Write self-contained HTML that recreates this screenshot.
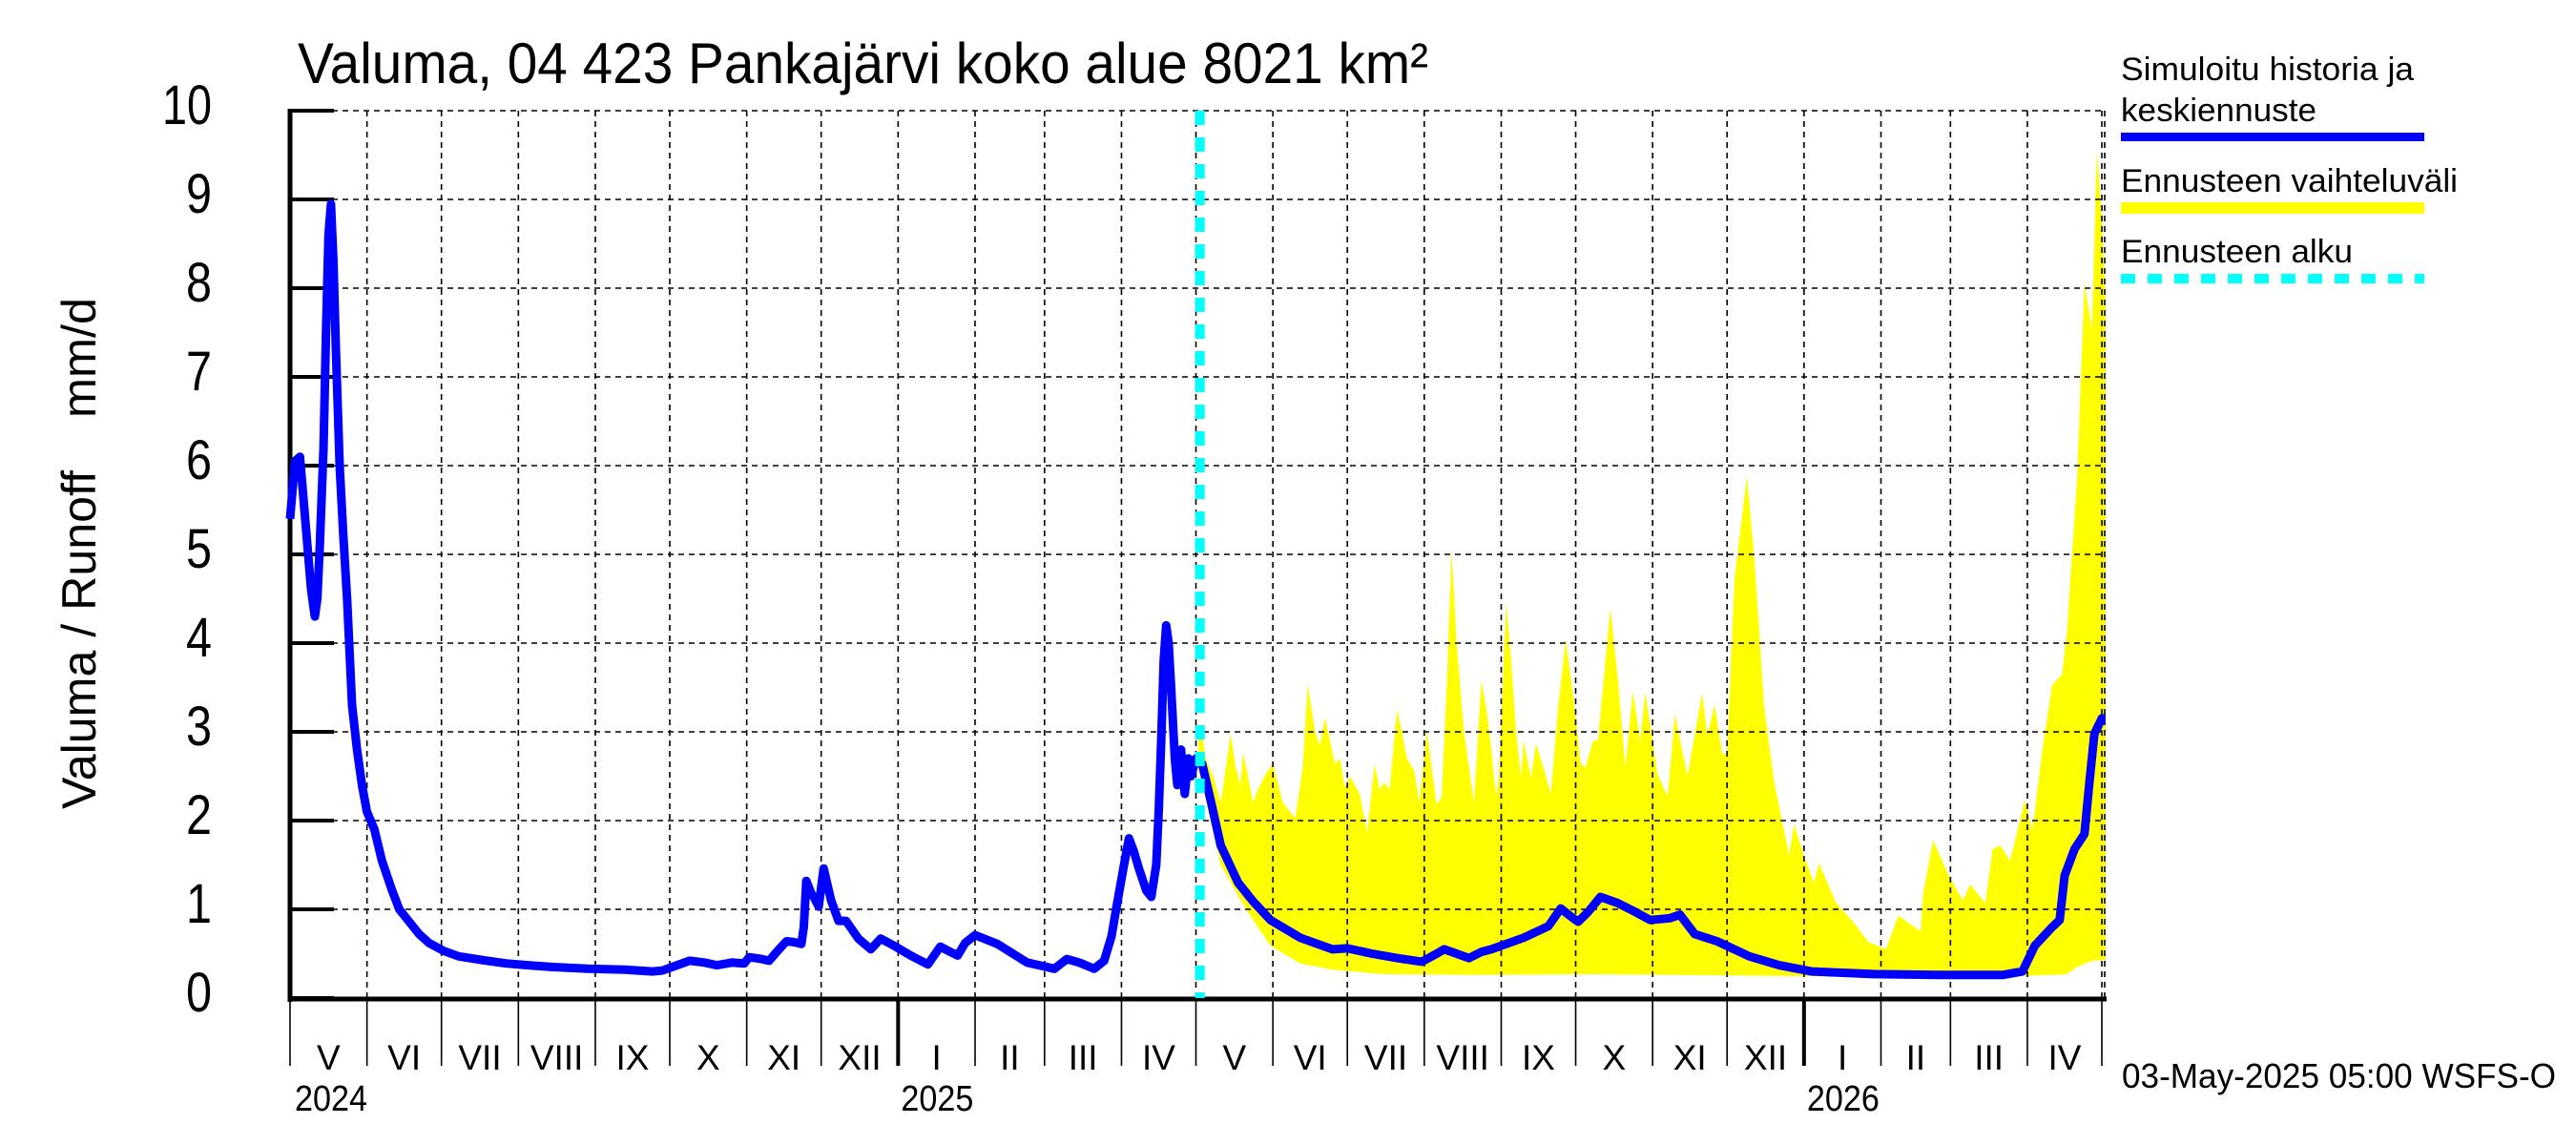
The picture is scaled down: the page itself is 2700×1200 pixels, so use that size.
<!DOCTYPE html>
<html><head><meta charset="utf-8"><style>
html,body{margin:0;padding:0;background:#fff;}
svg{display:block;font-family:"Liberation Sans",sans-serif;}
</style></head><body>
<svg id="chart" width="2700" height="1200" viewBox="0 0 2700 1200" xmlns="http://www.w3.org/2000/svg">
<rect x="0" y="0" width="2700" height="1200" fill="#fff"/>
<text x="312" y="87" font-size="60" textLength="1185" lengthAdjust="spacingAndGlyphs">Valuma, 04 423 Pankajärvi koko alue 8021 km²</text>
<g transform="translate(100,580) rotate(-90)">
<text x="-268" y="0" font-size="50" textLength="355" lengthAdjust="spacingAndGlyphs">Valuma / Runoff</text>
<text x="142" y="0" font-size="50" textLength="126" lengthAdjust="spacingAndGlyphs">mm/d</text>
</g>
<g id="band"></g>
<g id="grid"></g>
<g id="axes"></g>
<g id="series"></g>
<g>
<text x="2223" y="84" font-size="34" textLength="307" lengthAdjust="spacingAndGlyphs">Simuloitu historia ja</text>
<text x="2223" y="127" font-size="34" textLength="205" lengthAdjust="spacingAndGlyphs">keskiennuste</text>
<rect x="2223" y="139" width="318" height="9" fill="#0000ff"/>
<text x="2223" y="201" font-size="34" textLength="353" lengthAdjust="spacingAndGlyphs">Ennusteen vaihteluväli</text>
<rect x="2223" y="212" width="318" height="12" fill="#ffff00"/>
<text x="2223" y="275" font-size="34" textLength="243" lengthAdjust="spacingAndGlyphs">Ennusteen alku</text>
<line x1="2223" y1="292" x2="2541" y2="292" stroke="#00ffff" stroke-width="10" stroke-dasharray="15,13"/>
</g>
<text x="2224" y="1140" font-size="36" textLength="455" lengthAdjust="spacingAndGlyphs">03-May-2025 05:00 WSFS-O</text>
</svg>
<script>
const yTicks = [0,1,2,3,4,5,6,7,8,9,10];
const monthLabels = ["V","VI","VII","VIII","IX","X","XI","XII","I","II","III","IV","V","VI","VII","VIII","IX","X","XI","XII","I","II","III","IV"];
const monthLengths = [31,30,31,31,30,31,30,31,31,28,31,30,31,30,31,31,30,31,30,31,31,28,31,30];
const yearLabels = ["2024","2025","2026"];
const yearStartDays = [0,245,610];
const forecastStartDay = 367;
const runoffDays = [0,2,4,5.5,7,8.5,10,11,12,13.5,14.5,15.5,16.5,17.5,18.5,20,21.5,23,25,27,29,31,34,37,41,44,48,52,56,62,68,77,87,96,106,120,135,146,150,155,161,167,172,178,183,185,190,193,197,200,203,206,207,208,210,211,213,215,218,221,224,229,234,238,244,250,257,262,266,269,272,276,285,297,308,313,318,324,328,331,333,336,338,340,342,345,347,349,350,351,352,353,354,355,356.5,357.5,359,360.5,362,363,365,367.5,371,375,382,388,395,407,420,426,436,446,456,462,465,470,475,480,484,497,507,512,516,519,523,528,535,542,548,556,560,566,575,588,600,613,638,664,690,698,703,710,713,715,719,723,725,727,730,731.5];
const runoffValues = [5.4,6.05,6.1,5.6,5.1,4.6,4.3,4.5,5.1,6.2,7.5,8.6,8.95,8.3,7.3,6.0,5.2,4.5,3.3,2.8,2.4,2.1,1.9,1.55,1.22,1.0,0.86,0.72,0.62,0.53,0.47,0.43,0.39,0.37,0.35,0.33,0.32,0.30,0.31,0.36,0.42,0.40,0.37,0.40,0.39,0.46,0.44,0.42,0.55,0.64,0.63,0.61,0.8,1.32,1.18,1.14,1.03,1.46,1.10,0.87,0.87,0.67,0.55,0.67,0.58,0.48,0.38,0.58,0.52,0.48,0.62,0.71,0.61,0.40,0.33,0.44,0.40,0.33,0.42,0.7,1.03,1.5,1.80,1.65,1.46,1.21,1.14,1.5,2.11,2.9,3.8,4.2,4.0,3.5,2.7,2.4,2.8,2.3,2.7,2.5,2.7,2.64,2.22,1.72,1.30,1.09,0.88,0.68,0.55,0.56,0.50,0.45,0.41,0.50,0.55,0.50,0.45,0.52,0.55,0.68,0.81,1.01,0.92,0.86,0.97,1.14,1.07,0.97,0.88,0.90,0.94,0.72,0.64,0.47,0.37,0.30,0.27,0.26,0.26,0.30,0.59,0.80,0.88,1.38,1.68,1.85,2.43,2.98,3.15,3.15];
const upperDays = [366,367,369,372,375,379,381,383,384,386,388,390,393,396,400,405,408,410,413,415,417,419,421,423,425,427,431,434,437,439,441,443,446,448,450,453,455,458,460,462,464,466,468,470,473,475,477,480,482,484,486,487,490,492,494,496,497,500,502,505,508,511,514,517,520,522,525,527,532,535,538,541,544,546,549,551,555,558,563,569,571,574,577,579,582,587,590,594,598,604,606,610,614,616,623,630,636,643,648,657,658,662,668,674,677,683,686,689,693,699,702,706,710,714,716,720,723,726,728,730,731.5];
const upperValues = [3.0,3.06,2.69,2.5,2.2,2.98,2.6,2.4,2.77,2.5,2.2,2.35,2.52,2.64,2.2,2.03,2.6,3.54,3.0,2.85,3.16,2.9,2.64,2.7,2.37,2.5,2.3,1.87,2.64,2.35,2.43,2.35,3.25,3.0,2.7,2.56,2.2,3.02,2.6,2.18,2.26,3.5,5.05,4.0,3.0,2.6,2.2,3.58,3.26,2.8,2.26,2.48,4.46,3.8,3.0,2.48,2.9,2.48,2.87,2.6,2.3,3.3,4.04,3.4,2.64,2.6,2.9,2.9,4.4,3.6,2.6,3.46,2.9,3.44,2.9,2.52,2.27,3.2,2.5,3.44,2.95,3.31,2.75,2.75,4.73,5.88,4.95,3.27,2.43,1.61,1.96,1.6,1.30,1.52,1.07,0.85,0.63,0.55,0.93,0.75,1.18,1.78,1.4,1.10,1.28,1.07,1.68,1.72,1.55,2.23,1.89,2.8,3.53,3.65,4.15,5.85,8.06,7.54,9.55,8.78,7.87];
const lowerDays = [366,370,375,382,388,395,407,420,440,480,520,560,600,650,700,716,720,726,731.5];
const lowerValues = [2.6,2.1,1.5,1.15,0.88,0.59,0.39,0.32,0.27,0.26,0.27,0.26,0.25,0.24,0.25,0.27,0.35,0.42,0.43];

const NS = "http://www.w3.org/2000/svg";
const X0 = 304, PXDAY = 2.6014, Y0 = 1046, PXUNIT = 93, XR = 2206;
function xs(d){ return X0 + d*PXDAY; }
function ys(v){ return Y0 - v*PXUNIT; }
function mk(tag, attrs, parent){ const e = document.createElementNS(NS, tag); for (const k in attrs) e.setAttribute(k, attrs[k]); parent.appendChild(e); return e; }

const band = document.getElementById('band');
let pts = [];
for (let i=0;i<upperDays.length;i++) pts.push(xs(upperDays[i]).toFixed(1)+','+ys(upperValues[i]).toFixed(1));
for (let i=lowerDays.length-1;i>=0;i--) pts.push(xs(lowerDays[i]).toFixed(1)+','+ys(lowerValues[i]).toFixed(1));
const poly = mk('polygon', {points: pts.join(' '), fill:'#ffff00'}, band);



const grid = document.getElementById('grid');
for (const t of yTicks) {
  if (t === 0) continue;
  const l = mk('line', {x1:X0, x2:XR, y1:ys(t), y2:ys(t), stroke:'#000', 'stroke-width':1.6, 'stroke-dasharray':'6,5'}, grid);
  
  
}
let cum = 0; const bounds = [0];
for (const m of monthLengths) { cum += m; bounds.push(cum); }
for (let i=1;i<bounds.length;i++) {
  const x = xs(bounds[i]);
  const l = mk('line', {x1:x, x2:x, y1:ys(10), y2:Y0, stroke:'#000', 'stroke-width':1.6, 'stroke-dasharray':'6,5'}, grid);
  
  
}
const rb = mk('line', {x1:XR, x2:XR, y1:ys(10), y2:Y0, stroke:'#000', 'stroke-width':1.6, 'stroke-dasharray':'6,5'}, grid);



const axes = document.getElementById('axes');
const ya = mk('line', {x1:X0, x2:X0, y1:ys(10)-2, y2:Y0+4, stroke:'#000', 'stroke-width':5}, axes);


const xa = mk('line', {x1:X0-2, x2:XR+2, y1:Y0+1, y2:Y0+1, stroke:'#000', 'stroke-width':5}, axes);


for (const t of yTicks) {
  const tk = mk('line', {x1:X0, x2:X0+46, y1:ys(t), y2:ys(t), stroke:'#000', 'stroke-width':4}, axes);
  
  
  const tx = mk('text', {x:222, y:ys(t)+14, 'text-anchor':'end', 'font-size':58, textLength: t === 10 ? 52 : 27, lengthAdjust:'spacingAndGlyphs'}, axes);
  tx.textContent = String(t);
  
  
}
for (let i=0;i<bounds.length;i++) {
  const isYear = yearStartDays.indexOf(bounds[i]) > 0;
  const x = xs(bounds[i]);
  const tk = mk('line', {x1:x, x2:x, y1:Y0+3, y2:1117, stroke:'#000', 'stroke-width': isYear ? 4 : 1.6}, axes);
  
  
}
for (let i=0;i<monthLabels.length;i++) {
  const xm = xs((bounds[i]+bounds[i+1])/2);
  const tx = mk('text', {x:xm, y:1121, 'text-anchor':'middle', 'font-size':37}, axes);
  tx.textContent = monthLabels[i];
  
  
}
for (let i=0;i<yearLabels.length;i++) {
  const tx = mk('text', {x:xs(yearStartDays[i]) + (i===0 ? 5 : 3), y:1164, 'font-size':38, textLength:76, lengthAdjust:'spacingAndGlyphs'}, axes);
  tx.textContent = yearLabels[i];
  
  
}

const series = document.getElementById('series');
let d = '';
for (let i=0;i<runoffDays.length;i++) d += (i? 'L':'M') + xs(runoffDays[i]).toFixed(1) + ',' + ys(runoffValues[i]).toFixed(1);
const line = mk('path', {d:d, fill:'none', stroke:'#0000ff', 'stroke-width':9, 'stroke-linejoin':'round'}, series);


const fx = xs(forecastStartDay) - 1;
const fl = mk('line', {x1:fx, x2:fx, y1:ys(10), y2:Y0, stroke:'#00ffff', 'stroke-width':10, 'stroke-dasharray':'15,13'}, series);


</script>
</body></html>
